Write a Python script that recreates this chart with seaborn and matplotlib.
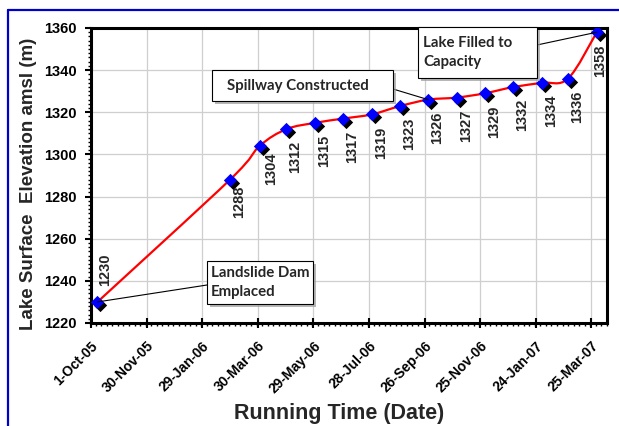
import numpy as np
import pandas as pd
import matplotlib; matplotlib.use("Agg")
import matplotlib.pyplot as plt
import matplotlib.patheffects as pe
from matplotlib.path import Path
from matplotlib.patches import PathPatch, Rectangle
from matplotlib.lines import Line2D
from matplotlib.ticker import MultipleLocator, FixedLocator
from matplotlib.transforms import offset_copy, ScaledTranslation
import matplotlib.dates as mdates
import seaborn as sns

sns.set_theme(style="ticks")
plt.rcParams["font.family"] = ["Liberation Sans", "DejaVu Sans"]

# lake level readings (date, m amsl)
dates = ["2005-10-08", "2006-02-28", "2006-04-01", "2006-04-30", "2006-05-31",
         "2006-06-30", "2006-07-31", "2006-08-31", "2006-09-30", "2006-10-31",
         "2006-11-30", "2006-12-31", "2007-01-31", "2007-02-28", "2007-03-31"]
levels = [1230, 1288, 1304, 1312, 1315, 1317, 1319, 1323, 1326, 1327,
          1329, 1332, 1334, 1336, 1358]

# x axis ticks (every 60 days from 1-Oct-05)
tick_dates = ["2005-10-01", "2005-11-30", "2006-01-29", "2006-03-30", "2006-05-29",
              "2006-07-28", "2006-09-26", "2006-11-25", "2007-01-24", "2007-03-25"]
tick_labels = ["1-Oct-05", "30-Nov-05", "29-Jan-06", "30-Mar-06", "29-May-06",
               "28-Jul-06", "26-Sep-06", "25-Nov-06", "24-Jan-07", "25-Mar-07"]
y_ticks = [1220, 1240, 1260, 1280, 1300, 1320, 1340, 1360]

# callouts
note_text = ["Landslide Dam\nEmplaced", "Spillway Constructed", "Lake Filled to\nCapacity"]
note_point = [0, 8, 14]

df = pd.DataFrame({"date": pd.to_datetime(dates), "level": levels})

fig = plt.figure(figsize=(6.19, 4.26), dpi=100)
ax = fig.add_axes([91 / 619, 103 / 426, 516 / 619, 295 / 426])

# smoothed line (Excel-style cubic bezier through the points)
xs = mdates.date2num(df["date"])
P = np.column_stack([xs, df["level"].to_numpy(float)])
n = len(P)
verts, codes = [P[0]], [Path.MOVETO]
for i in range(n - 1):
    p0, p1, p2, p3 = P[max(i - 1, 0)], P[i], P[i + 1], P[min(i + 2, n - 1)]
    verts += [p1 + (p2 - p0) / 6, p2 - (p3 - p1) / 6, p2]
    codes += [Path.CURVE4] * 3
ax.add_patch(PathPatch(Path(verts, codes), fill=False, ec="#FF0000", lw=1.6, zorder=3))

# marker shadow + markers
sns.scatterplot(data=df, x="date", y="level", marker="D", s=46, color="black",
                linewidth=0, ax=ax, zorder=4)
ax.collections[-1].set_offset_transform(
    offset_copy(ax.transData, fig=fig, x=3, y=-3, units="dots"))
sns.scatterplot(data=df, x="date", y="level", marker="D", s=46, color="#0000FF",
                linewidth=0, ax=ax, zorder=5)

# data labels
for i, (d, v) in enumerate(zip(df["date"], levels)):
    if i == 0:
        ax.annotate(str(v), (d, v), xytext=(8, 16), textcoords="offset pixels",
                    rotation=90, ha="center", va="bottom", fontsize=10.5,
                    fontweight="bold", zorder=6)
    else:
        dx = 3 if i == n - 1 else (12 if i == 2 else 9)
        dy = -6 if i in (1, 2) else -12
        ax.annotate(str(v), (d, v), xytext=(dx, dy), textcoords="offset pixels",
                    rotation=90, ha="center", va="top", fontsize=10.5,
                    fontweight="bold", zorder=6)

# callout boxes, in axes fraction: (x0, y0, x1, y1), leader start, text anchor
boxes = [(0.2248, 0.0644, 0.4302, 0.2102),
         (0.2345, 0.7525, 0.5853, 0.8576),
         (0.6337, 0.8305, 0.8643, 1.0034)]
leader_start = [(0.2248, 0.1288), (0.5853, 0.7932), (0.8643, 0.9424)]
text_anchor = [(0.2326, 0.137), (0.2636, 0.805), (0.6434, 0.917)]
for txt, idx, (x0, y0, x1, y1), ls, ta in zip(note_text, note_point, boxes,
                                               leader_start, text_anchor):
    ax.annotate("", xy=(df["date"][idx], levels[idx]), xytext=ls,
                textcoords="axes fraction", annotation_clip=False, zorder=6.5,
                arrowprops=dict(arrowstyle="-", color="black", lw=0.8,
                                shrinkA=0, shrinkB=0))
    rect = Rectangle((x0, y0), x1 - x0, y1 - y0, transform=ax.transAxes,
                     fc="white", ec="black", lw=0.8, zorder=7, clip_on=False)
    rect.set_path_effects(
        [pe.SimplePatchShadow(offset=(2.5, -2.5), shadow_rgbFace="#999999", alpha=0.7),
         pe.Normal()])
    ax.add_patch(rect)
    ax.text(ta[0], ta[1], txt, transform=ax.transAxes, ha="left", va="center",
            multialignment="left", fontsize=10.8, fontweight="bold",
            family=["Lato", "DejaVu Sans"], linespacing=1.45, zorder=8)

# axes
ax.set_xlim(pd.Timestamp("2005-10-01"), pd.Timestamp("2007-04-11"))
ax.set_ylim(1220, 1360)
ax.xaxis.set_major_locator(FixedLocator(mdates.date2num(pd.to_datetime(tick_dates))))
ax.set_xticklabels(tick_labels, rotation=45, ha="right", rotation_mode="anchor",
                   fontsize=10, fontweight="bold")
shift = ScaledTranslation(-3 / 100, 0, fig.dpi_scale_trans)
for lbl in ax.get_xticklabels():
    lbl.set_transform(lbl.get_transform() + shift)
ax.xaxis.set_minor_locator(MultipleLocator(6))
ax.set_yticks(y_ticks)
ax.set_yticklabels([str(t) for t in y_ticks], fontsize=10.5, fontweight="bold")
ax.yaxis.set_minor_locator(MultipleLocator(2))

ax.grid(True, which="major", color="#CFCFCF", lw=0.9)
for s in ax.spines.values():
    s.set_linewidth(2.2)
    s.set_color("black")
ax.tick_params(axis="y", which="major", direction="out", length=4, width=1.5, pad=6, colors="black")
ax.tick_params(axis="y", which="minor", direction="out", length=2.5, width=1, colors="black")
ax.tick_params(axis="x", which="major", direction="inout", length=7, width=1.5, pad=8, colors="black")
ax.tick_params(axis="x", which="minor", direction="out", length=2.5, width=1, colors="black")

ax.set_xlabel("Running Time (Date)", fontsize=15.5, fontweight="bold")
ax.set_ylabel("Lake Surface  Elevation amsl (m)", fontsize=13.5, fontweight="bold")
ax.xaxis.set_label_coords(0.48, -0.27)
ax.yaxis.set_label_coords(-0.105, 0.471)

# blue outer frame (partly cropped)
fig.add_artist(Line2D([8 / 619, 1.0], [416 / 426, 416 / 426], color="#0000CC", lw=1.6,
                      transform=fig.transFigure))
fig.add_artist(Line2D([8 / 619, 8 / 619], [0, 416 / 426], color="#0000CC", lw=1.6,
                      transform=fig.transFigure))

fig.savefig("out.png", dpi=100)
